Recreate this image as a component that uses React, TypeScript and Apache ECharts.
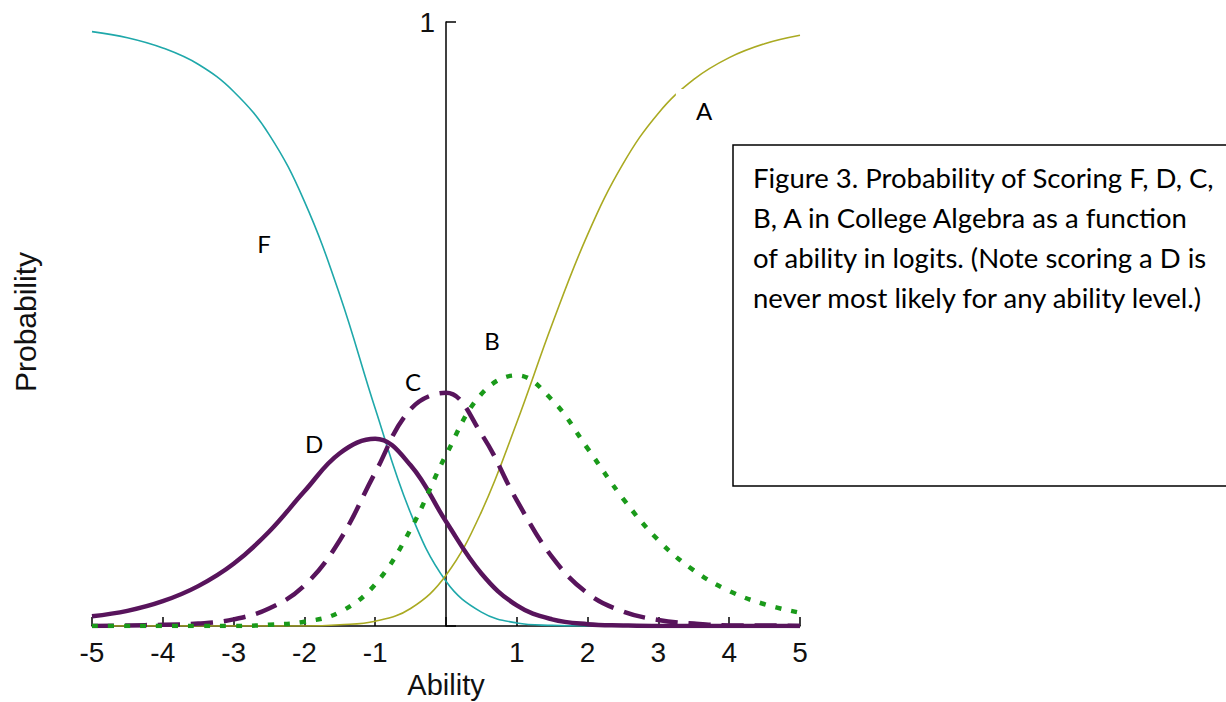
import React, { useEffect, useRef } from "react";
import * as echarts from "echarts";

// Ability (logits)
const abilities = [-5, -4.5, -4, -3.5, -3, -2.5, -2, -1.5, -1, -0.5, 0, 0.5, 1, 1.5, 2, 2.5, 3, 3.5, 4, 4.5, 5];

// Probability of each grade
const probF = [0.984, 0.974, 0.957, 0.930, 0.885, 0.814, 0.703, 0.548, 0.360, 0.187, 0.074, 0.023, 0.005, 0.001, 0.000, 0.000, 0.000, 0.000, 0.000, 0.000, 0.000];
const probD = [0.016, 0.025, 0.041, 0.066, 0.103, 0.156, 0.223, 0.286, 0.310, 0.266, 0.173, 0.087, 0.034, 0.011, 0.003, 0.001, 0.000, 0.000, 0.000, 0.000, 0.000];
const probC = [0.000, 0.001, 0.002, 0.004, 0.011, 0.029, 0.067, 0.142, 0.254, 0.359, 0.386, 0.318, 0.208, 0.114, 0.054, 0.024, 0.010, 0.004, 0.001, 0.001, 0.000];
const probB = [0.000, 0.000, 0.000, 0.000, 0.000, 0.002, 0.007, 0.023, 0.069, 0.160, 0.283, 0.384, 0.415, 0.374, 0.294, 0.211, 0.142, 0.092, 0.058, 0.036, 0.022];
const probA = [0.000, 0.000, 0.000, 0.000, 0.000, 0.000, 0.000, 0.002, 0.008, 0.029, 0.084, 0.189, 0.337, 0.500, 0.648, 0.765, 0.849, 0.905, 0.941, 0.964, 0.978];

const xTicks = [-5, -4, -3, -2, -1, 1, 2, 3, 4, 5];
const captionLines = [
  "Figure 3. Probability of Scoring F, D, C,",
  "B, A in College Algebra as a function",
  "of ability in logits. (Note scoring a D is",
  "never most likely for any ability level.)",
];

const pairs = (ys: number[]) => abilities.map((x, i) => [x, ys[i]]);

export default function App() {
  const ref = useRef<HTMLDivElement>(null);
  useEffect(() => {
    if (!ref.current) return;
    const chart = echarts.init(ref.current, null, { renderer: "svg" });
    const letterFont = "24px Lato";
    chart.setOption({
      animation: false,
      backgroundColor: "#ffffff",
      grid: { left: 92, right: 426, top: 22, bottom: 76, containLabel: false, outerBoundsMode: "none" },
      xAxis: {
        type: "value",
        min: -5,
        max: 5,
        interval: 1,
        name: "Ability",
        nameLocation: "middle",
        nameGap: 42,
        nameTextStyle: { fontSize: 29, color: "#111", fontFamily: "Liberation Sans" },
        axisLine: { onZero: false, lineStyle: { color: "#000", width: 1.5 } },
        axisTick: { inside: true, length: 9, lineStyle: { color: "#000", width: 1.5 } },
        axisLabel: {
          fontSize: 28,
          color: "#111",
          fontFamily: "Liberation Sans",
          margin: 12,
          formatter: (v: number) => (xTicks.indexOf(v) >= 0 ? String(v) : ""),
        },
        splitLine: { show: false },
      },
      yAxis: {
        type: "value",
        min: 0,
        max: 1,
        interval: 1,
        position: "left",
        offset: -354,
        axisLine: { show: true, onZero: false, lineStyle: { color: "#000", width: 1.5 } },
        axisTick: { show: true, inside: true, length: 10, lineStyle: { color: "#000", width: 1.5 } },
        axisLabel: {
          fontSize: 28,
          color: "#111",
          fontFamily: "Liberation Sans",
          margin: 11,
          formatter: (v: number) => (v === 1 ? "1" : ""),
        },
        splitLine: { show: false },
      },
      series: [
        {
          name: "F", type: "line", data: pairs(probF), smooth: 0.4, symbol: "none",
          lineStyle: { color: "#1fa8aa", width: 1.6 }, z: 2,
        },
        {
          name: "A", type: "line", data: pairs(probA), smooth: 0.4, symbol: "none",
          lineStyle: { color: "#aaaa22", width: 1.6 }, z: 2,
        },
        {
          name: "D", type: "line", data: pairs(probD), smooth: 0.4, symbol: "none",
          lineStyle: { color: "#58145c", width: 4.5 }, z: 3,
        },
        {
          name: "C", type: "line", data: pairs(probC), smooth: 0.4, symbol: "none",
          lineStyle: { color: "#58145c", width: 4.5, type: [22, 11] }, z: 3,
        },
        {
          name: "B", type: "line", data: pairs(probB), smooth: 0.4, symbol: "none",
          lineStyle: { color: "#1a9a1a", width: 4.5, type: [6, 10] }, z: 4,
        },
      ],
      graphic: [
        {
          type: "text", x: 25, y: 322, rotation: Math.PI / 2,
          style: { text: "Probability", font: "30px 'Liberation Sans'", fill: "#111", align: "center", verticalAlign: "middle" },
        },
        { type: "text", x: 264, y: 243, style: { text: "F", font: letterFont, fill: "#000", align: "center", verticalAlign: "middle" } },
        { type: "text", x: 314, y: 443, style: { text: "D", font: letterFont, fill: "#000", align: "center", verticalAlign: "middle" } },
        { type: "text", x: 413, y: 381, style: { text: "C", font: letterFont, fill: "#000", align: "center", verticalAlign: "middle" } },
        { type: "text", x: 492, y: 340, style: { text: "B", font: letterFont, fill: "#000", align: "center", verticalAlign: "middle" } },
        {
          type: "text", x: 697, y: 110, z: 10,
          style: { text: "A", font: letterFont, fill: "#000", align: "center", verticalAlign: "middle", backgroundColor: "#fff", padding: [14, 6, 4, 20] },
        },
        {
          type: "rect", z: 10,
          shape: { x: 733, y: 145, width: 520, height: 341 },
          style: { fill: "#fff", stroke: "#000", lineWidth: 1.5 },
        },
        {
          type: "text", x: 753, y: 157, z: 11,
          style: { text: captionLines.join("\n"), font: "27.5px Lato", lineHeight: 40, fill: "#000", align: "left", verticalAlign: "top" },
        },
      ],
    });
    return () => chart.dispose();
  }, []);
  return <div ref={ref} style={{ position: "fixed", left: 0, top: 0, width: 1226, height: 702 }} />;
}
